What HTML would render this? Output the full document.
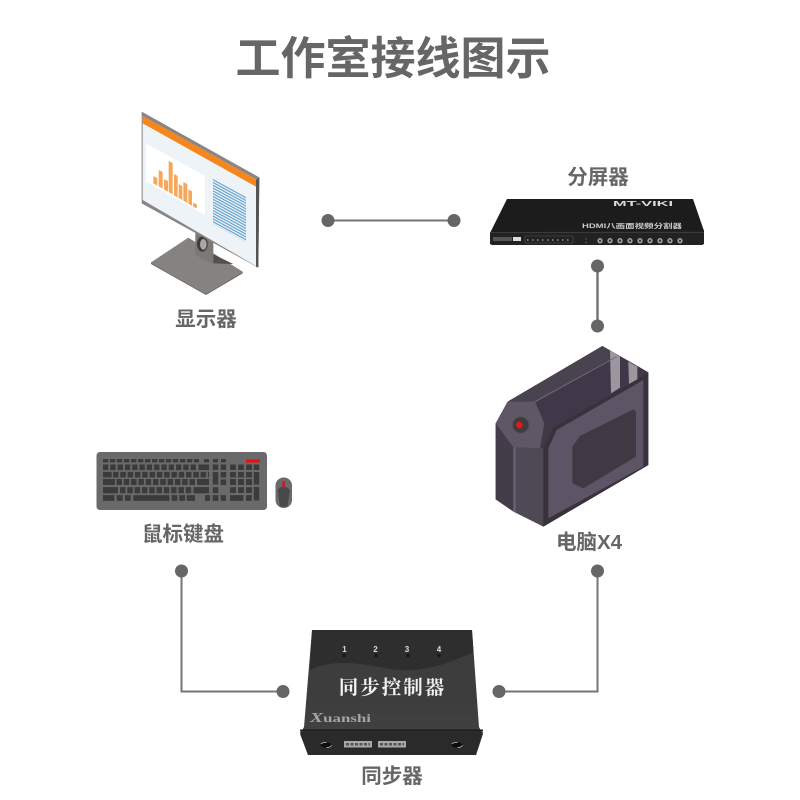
<!DOCTYPE html>
<html><head><meta charset="utf-8"><style>
html,body{margin:0;padding:0;background:#fff}
svg{display:block}
.l{font-family:"Liberation Sans","Noto Sans CJK SC",sans-serif;font-weight:700;fill:#666;text-anchor:middle}
</style></head><body>
<svg width="800" height="800" viewBox="0 0 800 800" xmlns="http://www.w3.org/2000/svg">
<defs>
<pattern id="st" width="10" height="2.8" patternUnits="userSpaceOnUse" patternTransform="translate(213 179) skewY(28.6)"><rect width="10" height="1.4" fill="#6aa6cf"/></pattern>
<linearGradient id="sy" x1="0" y1="0" x2="0" y2="1"><stop offset="0" stop-color="#3a3a3a"/><stop offset="1" stop-color="#414141"/></linearGradient>
<filter id="b"><feGaussianBlur stdDeviation="0.35"/></filter>
</defs>
<rect width="800" height="800" fill="#fff"/>
<text x="393" y="74" class="l" font-size="45">工作室接线图示</text>

<!-- connectors -->
<g fill="none" stroke="#757575" stroke-width="2">
<path d="M328 220.500H454"/><path d="M597.500 266V326" stroke-width="2.500"/>
<path d="M181.500 571V691.500H283"/><path d="M597.500 571V691.500H499"/>
</g>
<g fill="#666">
<circle cx="328" cy="220.500" r="6.500"/><circle cx="454" cy="220.500" r="6.500"/>
<circle cx="597.500" cy="266" r="6.500"/><circle cx="597.500" cy="326" r="6.500"/>
<circle cx="181.500" cy="571" r="6.500"/><circle cx="283" cy="691.500" r="6.500"/>
<circle cx="597.500" cy="571" r="6.500"/><circle cx="499" cy="691.500" r="6.500"/>
</g>

<!-- monitor (zoom coordinates) -->
<g filter="url(#b)" transform="translate(120 100) scale(.33333)">
<polygon points="205,413 368,515 258,580 93,487" fill="#86827f"/>
<polygon points="93,487 258,580 368,515 368,520 258,585 93,492" fill="#6e6c6b"/>
<polygon points="278,462 340,492 278,490" fill="#55504e"/>
<polygon points="226,395 280,425 280,490 268,487 226,465" fill="#7c7876"/>
<ellipse cx="247" cy="432" rx="16" ry="23" fill="#3a3a3a"/>
<ellipse cx="250" cy="433" rx="10" ry="16" fill="#aaa7a5"/>
<polygon points="65,35 418,232 415,503 65,310" fill="#8a8584"/>
<polygon points="68,48 408,238 408,498 68,300" fill="#eef3f8"/>
<polygon points="68,48 408,238 408,260 68,70" fill="#f5861f"/>
<polygon points="408,240 418,232 415,503 408,500" fill="#555"/>
<polygon points="78,130 255,228 255,345 78,245" fill="#fff"/>
<g fill="#f5a85c">
<polygon points="100,228 112,234 112,257 100,250"/>
<polygon points="116,210 128,216 128,266 116,259"/>
<polygon points="132,237 144,243 144,275 132,268"/>
<polygon points="146,183 158,189 158,283 146,276"/>
<polygon points="162,222 173,228 173,292 162,286"/>
<polygon points="176,252 187,258 187,300 176,294"/>
<polygon points="190,246 202,252 202,309 190,302"/>
<polygon points="205,268 216,274 216,318 205,311"/>
<polygon points="219,308 231,314 231,325 219,320"/>
</g>
</g>
<polygon points="213,179 246,197 246,242 213,224" fill="url(#st)" filter="url(#b)"/>
<text x="206" y="326" class="l" font-size="20.500">显示器</text>

<!-- splitter -->
<g filter="url(#b)">
<polygon points="507,199 693,199 704,231 490,233" fill="#1b1b1b"/>
<polygon points="490,232 704,230 704,244 702,245 492,245 490,244" fill="#202020"/>
<rect x="490" y="232" width="214" height="1" fill="#3a3a3a"/>
<rect x="493" y="237" width="19" height="4" fill="#555"/>
<rect x="513" y="237" width="8" height="4" fill="#ddd"/>
<rect x="525" y="236" width="48" height="7" rx="1" fill="none" stroke="#555" stroke-width=".6"/>
<path d="M527 240H572" stroke="#aaa" stroke-width="1.200" stroke-dasharray="1.500 3.500"/>
<path d="M586 238.500V244" stroke="#888" stroke-width="1" stroke-dasharray="1 2.500"/>
<g fill="#333" stroke="#a5a5a5" stroke-width="1.500">
<circle cx="600" cy="240.700" r="1.900"/><circle cx="610" cy="240.700" r="1.900"/><circle cx="620" cy="240.700" r="1.900"/><circle cx="630" cy="240.700" r="1.900"/><circle cx="640" cy="240.700" r="1.900"/><circle cx="650" cy="240.700" r="1.900"/><circle cx="660" cy="240.700" r="1.900"/><circle cx="670" cy="240.700" r="1.900"/><circle cx="680" cy="240.700" r="1.900"/>
</g>
<text x="613" y="206" font-family="Liberation Sans,sans-serif" font-size="7" font-weight="700" fill="#ddd" textLength="60" lengthAdjust="spacingAndGlyphs">MT-VIKI</text>
<text x="582" y="228" font-family="Liberation Sans,'Noto Sans CJK SC',sans-serif" font-size="6.500" font-weight="700" fill="#ccc" textLength="100" lengthAdjust="spacingAndGlyphs">HDMI八画面视频分割器</text>
</g>
<text x="598" y="184" class="l" font-size="20.500">分屏器</text>

<!-- PC (zoom coordinates) -->
<g filter="url(#b)" transform="translate(485 340) scale(.33333)">
<polygon points="352,18 490,97 490,375 175,560 32,478 32,250 68,185" fill="#494250"/>
<polygon points="150,185 352,18 490,97 205,262 178,250" fill="#41394a"/>
<polygon points="68,185 352,18 395,45 150,185" fill="#4a4350"/>
<polygon points="68,185 150,185 178,250 165,325 85,322 32,250" fill="#5e5666"/>
<polygon points="32,250 85,322 85,515 32,478" fill="#433c48"/>
<polygon points="85,322 175,325 175,560 85,515" fill="#4f4855"/>
<polygon points="85,322 92,322 92,518 85,515" fill="#6a6272"/>
<polygon points="165,325 178,250 205,262 175,325" fill="#403844"/>
<polygon points="175,325 205,262 478,105 490,97 490,375 175,560" fill="#37313c"/>
<polygon points="190,325 215,270 475,120 475,380 190,535" fill="#5d5566"/>
<polygon points="262,320 285,288 445,208 453,215 453,350 295,445 262,430" fill="#403842"/>
<polygon points="375,30 405,50 405,143 378,160" fill="#9c979f"/>
<polygon points="430,65 457,80 457,118 432,132" fill="#9c979f"/>
<path d="M150,185L395,50" stroke="#736c7a" stroke-width="3" fill="none"/>
<circle cx="107" cy="255" r="25" fill="#3d3d3d" stroke="#555" stroke-width="3"/>
<circle cx="103" cy="255" r="10" fill="#e8141c"/>
</g>
<text x="589" y="549" class="l" font-size="20.500">电脑X4</text>

<!-- keyboard -->
<g filter="url(#b)">
<rect x="96.500" y="452" width="170.500" height="58" rx="3.500" fill="#6a6a6a"/>
<g fill="none" stroke="#3a3a3a">
<path d="M103 460.700H199" stroke-width="3.400" stroke-dasharray="5.300 1.700"/>
<path d="M204 460.700H209M213 460.700H218M221 460.700H226" stroke-width="3.400"/>
<path d="M103 467.300H197" stroke-width="5.600" stroke-dasharray="5.300 2"/><path d="M198.500 467.300H209" stroke-width="5.600"/>
<path d="M103 474.700H111.700" stroke-width="5.600"/><path d="M113 474.700H209" stroke-width="5.600" stroke-dasharray="5.500 1.800"/>
<path d="M103 482H115" stroke-width="6"/><path d="M116.500 482H196" stroke-width="6" stroke-dasharray="5.500 1.800"/><path d="M197 482H209" stroke-width="6"/>
<path d="M103 490.200H118" stroke-width="6.200"/><path d="M120 490.200H192" stroke-width="6.200" stroke-dasharray="5.500 1.800"/><path d="M193.500 490.200H209" stroke-width="6.200"/>
<path d="M103 498H114.300M116.700 498H122.700M125 498H130.700M133.300 498H169.300M171.700 498H177.300M179.300 498H185M186.700 498H195M205 498H210M212.700 498H218.300M220.700 498H226M230 498H243.300M246 498H251.700" stroke-width="5.700"/>
<path d="M215.500 464.500V470M215.500 472V484.500M215.500 487.300V493M223.400 464.500V470M223.400 472V477.500M223.400 479.500V485" stroke-width="5.400"/>
<path d="M233 464.500V470M241 464.500V470M249 464.500V470M233 472V477.500M241 472V477.500M249 472V477.500M233 479V485M241 479V485M249 479V485M233 487.300V493M241 487.300V493M249 487.300V493" stroke-width="5.800"/>
<path d="M256.500 464.500V470M256.500 472V484.500M256.500 487V500.500" stroke-width="5.400"/>
</g>
<rect x="246" y="459.500" width="14" height="3" fill="#ee1111"/>
<rect x="275.500" y="477.500" width="16.500" height="30.500" rx="8" fill="#6a6a6a"/>
<path d="M277.500 490l3-3h6l3.500 3-2.500 16.500h-7.500z" fill="#484848"/>
<rect x="282.500" y="481" width="2.400" height="7" rx="1" fill="#d21616"/>
</g>
<text x="183" y="541" class="l" font-size="20.500">鼠标键盘</text>

<!-- sync box -->
<g filter="url(#b)">
<polygon points="312,630 472,630 479,727 483,734 476,755 308,755 300,734 304,727" fill="url(#sy)"/>
<path d="M310,670C340,655 375,668 400,670C430,672 455,660 473.500,652L472,630H312Z" fill="#2e2e2e"/>
<polygon points="300,732 483,732 476,755 308,755" fill="#2b2b2b"/>
<rect x="300" y="729.500" width="183" height="2" fill="#1e1e1e"/>
<g font-family="Liberation Sans,sans-serif" font-size="8" font-weight="700" fill="#ddd" text-anchor="middle">
<text x="344.500" y="652">1</text><text x="375.500" y="652">2</text><text x="407" y="652">3</text><text x="439" y="652">4</text>
</g>
<g fill="#151515" stroke="#5a1a14" stroke-width=".8">
<circle cx="344" cy="655.500" r="2"/><circle cx="376" cy="655.500" r="2"/><circle cx="408" cy="655.500" r="2"/><circle cx="439" cy="655.500" r="2"/>
</g>
<text x="392.500" y="694" font-family="Liberation Serif,'Noto Serif CJK SC',serif" font-size="19.500" font-weight="700" fill="#f2f2f2" text-anchor="middle" letter-spacing="2">同步控制器</text>
<text x="310" y="722" font-family="Liberation Serif,serif" font-size="12" font-weight="700" fill="#a5a5a5" textLength="61" lengthAdjust="spacingAndGlyphs"><tspan font-style="italic" font-size="14">X</tspan>uanshi</text>
<rect x="344" y="741" width="28" height="6.500" fill="#a8a8a8"/><rect x="378" y="741" width="28" height="6.500" fill="#a8a8a8"/>
<path d="M346 744.200H370M380 744.200H404" stroke="#555" stroke-width="2.500" stroke-dasharray="3 1.500"/>
<ellipse cx="326" cy="745" rx="5.500" ry="2.600" fill="#0c0c0c" stroke="#ccc" stroke-width=".7" stroke-dasharray="6 8"/>
<ellipse cx="457" cy="745" rx="5.500" ry="2.600" fill="#0c0c0c" stroke="#ccc" stroke-width=".7" stroke-dasharray="6 8"/>
</g>
<text x="392" y="783" class="l" font-size="20.500">同步器</text>
</svg>
</body></html>
